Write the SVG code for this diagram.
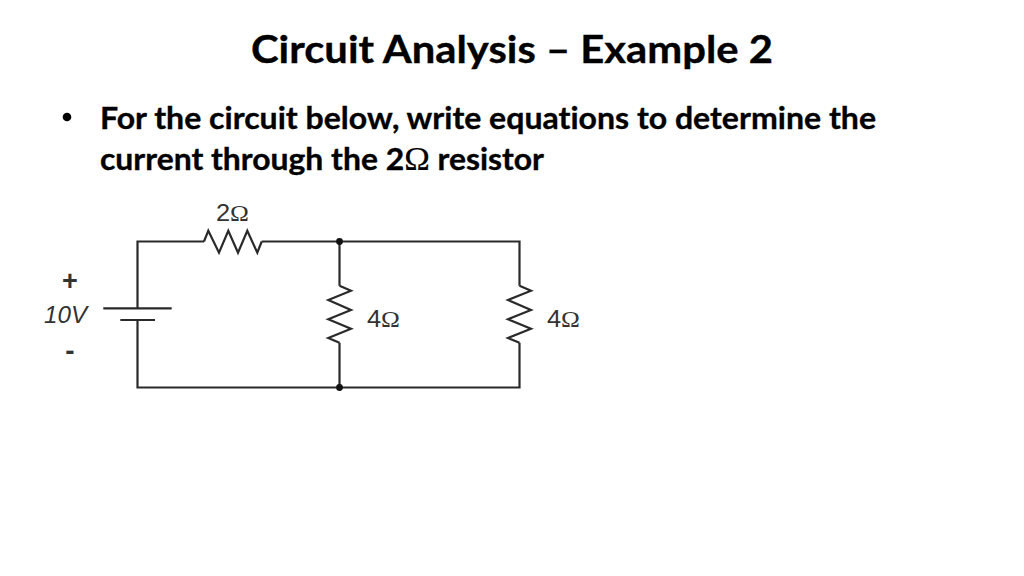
<svg xmlns="http://www.w3.org/2000/svg" width="1024" height="576" viewBox="0 0 1024 576">
<style>
.h{font-family:Lato,"Open Sans","Liberation Sans",sans-serif;font-weight:700;fill:#000;stroke:#000;stroke-width:.35;font-variant-ligatures:none}
.o{font-family:"Liberation Serif",serif;font-weight:400;stroke-width:.2}
.l{font-family:"Liberation Sans",Arial,sans-serif;fill:#333;font-size:24px}
.s{font-family:"Liberation Serif",serif}
.w{fill:none;stroke:#2a2a2a;stroke-width:2.2;stroke-linejoin:miter}
.d{fill:#111}
</style>
<rect width="1024" height="576" fill="#fff"/>
<g id="title"><text class="h" x="251" y="63" font-size="38" textLength="522" lengthAdjust="spacingAndGlyphs">Circuit Analysis – Example 2</text></g>
<g id="body">
<circle cx="67" cy="117" r="4.3" fill="#000"/>
<text class="h" x="100" y="129" font-size="30.5" textLength="776" lengthAdjust="spacingAndGlyphs">For the circuit below, write equations to determine the</text>
<text class="h" x="100" y="170" font-size="30.5" textLength="444" lengthAdjust="spacingAndGlyphs">current through the 2<tspan class="o" font-size="33">Ω</tspan> resistor</text>
</g>
<g id="connectors">
<path class="w" d="M204 241.5H137.5V308.3M137.5 320V387.5H519.5V342.7M261.7 241.5H519.5V285.7M339.5 241.5V285.7M339.5 342.7V387.5"/>
</g>
<g id="r1"><path class="w" d="M204 241.5L208.3 230.7L219 252.7L228.3 230.7L238 252.7L247.3 230.7L257.3 252.7L261.7 241.5"/><text class="l" x="216" y="220.5" textLength="33" lengthAdjust="spacingAndGlyphs">2<tspan class="s">Ω</tspan></text></g>
<g id="r2"><path class="w" d="M339.5 285.7L351 290.7L328.3 300L351 310L328.3 319.3L351 328.7L328.3 338L339.5 342.7"/><text class="l" x="367" y="327.3" textLength="33" lengthAdjust="spacingAndGlyphs">4<tspan class="s">Ω</tspan></text></g>
<g id="r3"><path class="w" d="M519.5 285.7L531 290.7L508 300L531 310L508 319.3L531 328.7L508 338L519.5 342.7"/><text class="l" x="547" y="327.3" textLength="33" lengthAdjust="spacingAndGlyphs">4<tspan class="s">Ω</tspan></text></g>
<g id="battery">
<path class="w" d="M103.3 308.3H171.7M120.3 320H155"/>
<text class="l" x="70" y="290" text-anchor="middle" font-size="27" style="font-size:27px;font-weight:700">+</text>
<text class="l" x="44" y="322.5" font-style="italic" textLength="43" lengthAdjust="spacingAndGlyphs">10V</text>
<text class="l" x="70" y="360" text-anchor="middle" style="font-size:28px;font-weight:700">-</text>
</g>
<g id="junction-top"><circle class="d" cx="339.5" cy="241.5" r="3.4"/></g>
<g id="junction-bottom"><circle class="d" cx="339.5" cy="387.5" r="3.4"/></g>
</svg>
